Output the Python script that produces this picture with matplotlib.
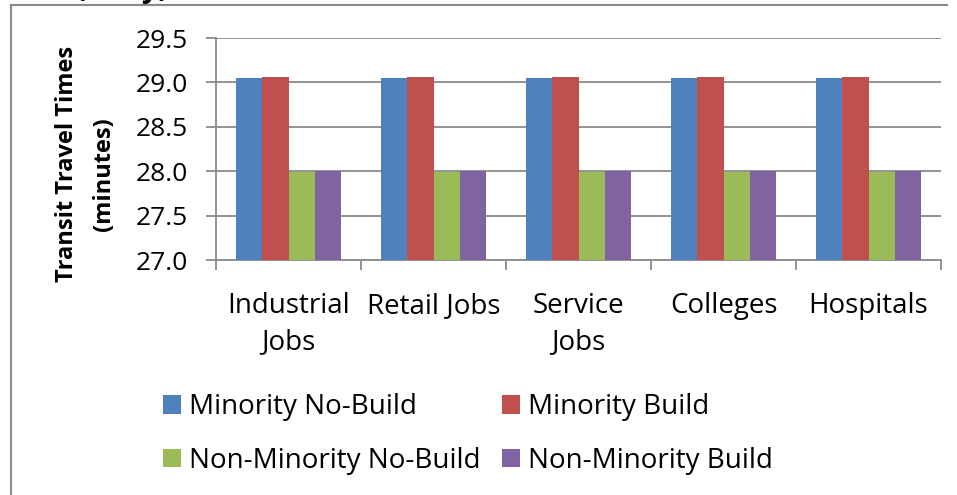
import matplotlib
matplotlib.use("Agg")
import matplotlib.pyplot as plt
import numpy as np
from matplotlib.lines import Line2D
from matplotlib.patches import Patch

plt.rcParams['font.family'] = ['Open Sans', 'DejaVu Sans']

# travel times by destination type (minutes)
categories = ["Industrial\nJobs", "Retail Jobs", "Service\nJobs", "Colleges", "Hospitals"]
minority_nobuild = [29.05, 29.05, 29.05, 29.05, 29.05]
minority_build = [29.06, 29.06, 29.06, 29.06, 29.06]
nonminority_nobuild = [27.99, 27.99, 27.99, 27.99, 27.99]
nonminority_build = [28.00, 28.00, 28.00, 28.00, 28.00]
series_names = ["Minority No-Build", "Minority Build",
                "Non-Minority No-Build", "Non-Minority Build"]
colors = ["#4F81BD", "#C0504D", "#9BBB59", "#8064A2"]
yticks = [27.0, 27.5, 28.0, 28.5, 29.0, 29.5]

W, H = 957, 495
fig = plt.figure(figsize=(W / 100, H / 100), dpi=100)
ax = fig.add_axes([216 / W, 1 - 260 / H, (941 - 216) / W, (260 - 38) / H])

x = np.arange(len(categories))
bw = 0.181
all_series = [minority_nobuild, minority_build, nonminority_nobuild, nonminority_build]
for i, (vals, c) in enumerate(zip(all_series, colors)):
    ax.bar(x + (i - 1.5) * bw, np.array(vals) - 27.0, bottom=27.0, width=bw,
           color=c, zorder=3)

ax.set_xlim(-0.5, len(categories) - 0.5)
ax.set_ylim(27.0, 29.5)
ax.set_yticks(yticks)
ax.set_yticklabels([f"{v:.1f}" for v in yticks], fontsize=19)
ax.yaxis.grid(True, color="#8a8a8a", linewidth=1.3, zorder=0)

# boundaries as major ticks, labels on minor ticks
ax.set_xticks(np.arange(len(categories) + 1) - 0.5)
ax.set_xticklabels([])
ax.set_xticks(x, minor=True)
ax.set_xticklabels(categories, minor=True, fontsize=20, linespacing=1.4)
ax.tick_params(axis='x', which='minor', length=0, pad=23)
ax.tick_params(axis='x', which='major', length=7, color="#8a8a8a", width=1.3)
ax.tick_params(axis='y', length=7, color="#8a8a8a", width=1.3, pad=13)

for s in ["top", "right"]:
    ax.spines[s].set_visible(False)
for s in ["left", "bottom"]:
    ax.spines[s].set_color("#8a8a8a")
    ax.spines[s].set_linewidth(1.3)

fig.text(67 / W, 1 - 164 / H, "Transit Travel Times", rotation=90, fontsize=17,
         fontweight='bold', ha='center', va='center')
fig.text(104 / W, 1 - 174 / H, "(minutes)", rotation=90, fontsize=17,
         fontweight='bold', ha='center', va='center')

# title, mostly off the top edge
fig.text(122 / W, 1 + 3 / H, "(Daily)", fontsize=21, fontweight='bold',
         ha='center', va='baseline')

# outer chart frame
fig.add_artist(Line2D([11 / W, 11 / W], [0, 1 - 5 / H], transform=fig.transFigure,
                      color="#8a8a8a", linewidth=1.5))
fig.add_artist(Line2D([11 / W, 947 / W], [1 - 5 / H, 1 - 5 / H], transform=fig.transFigure,
                      color="#8a8a8a", linewidth=1.5))

handles = [Patch(facecolor=c) for c in colors]
leg_kw = dict(frameon=False, fontsize=20, handlelength=0.65, handleheight=0.65,
              handletextpad=0.3, labelspacing=0.92, borderpad=0, borderaxespad=0,
              loc='upper left')
fig.legend([handles[0], handles[2]], [series_names[0], series_names[2]],
           bbox_to_anchor=(163 / W, 1 - 393 / H), **leg_kw)
fig.legend([handles[1], handles[3]], [series_names[1], series_names[3]],
           bbox_to_anchor=(502 / W, 1 - 393 / H), **leg_kw)

fig.savefig("out.png", dpi=100)
